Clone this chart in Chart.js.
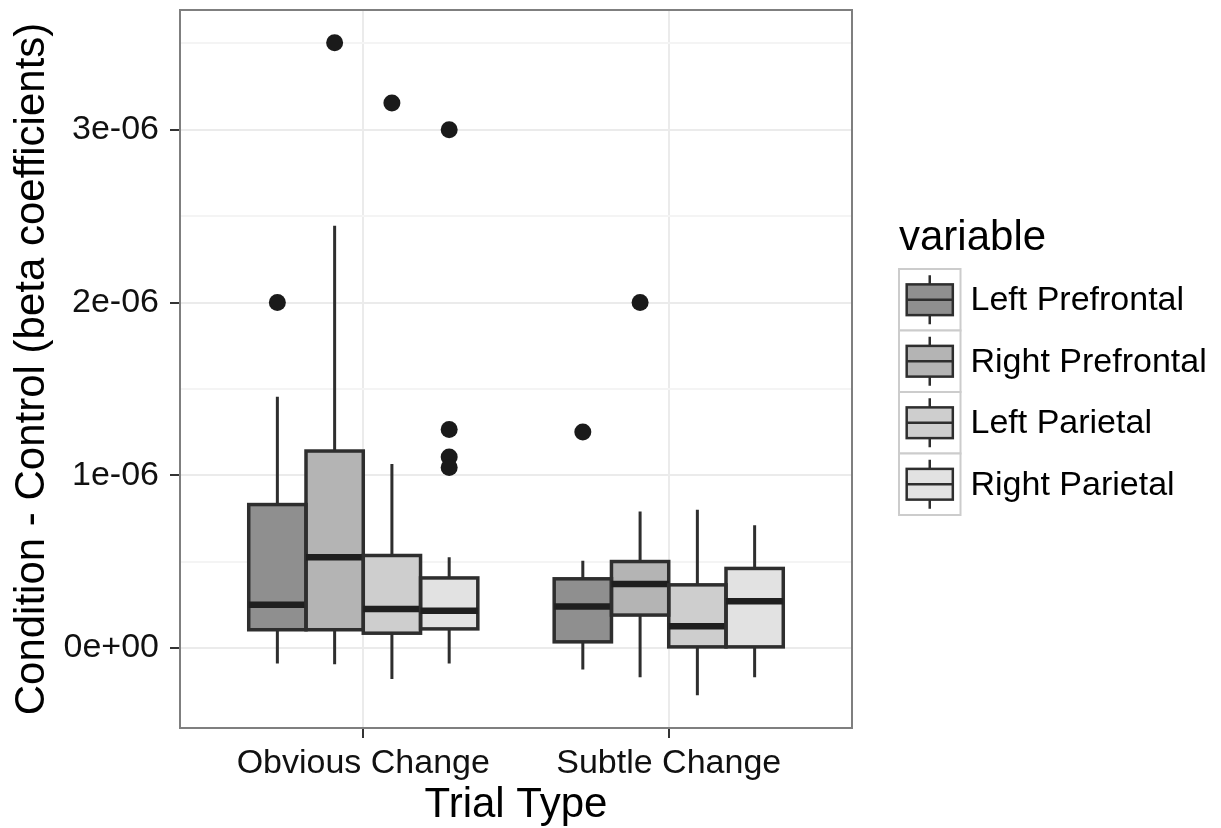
<!DOCTYPE html>
<html>
<head>
<meta charset="utf-8">
<script src="https://cdn.jsdelivr.net/npm/chart.js@4"></script>
<style>
  html, body { margin: 0; padding: 0; background: #fff; }
  canvas { display: block; }
</style>
</head>
<body>
<canvas id="boxes" width="1221" height="828"></canvas>
<script>
Chart.defaults.font.family = "'Liberation Sans', Arial, Helvetica, sans-serif";

const trialTypes = ['Obvious Change', 'Subtle Change'];
const regions = ['Left Prefrontal', 'Right Prefrontal', 'Left Parietal', 'Right Parietal'];
const regionFills = ['#8f8f8f', '#b4b4b4', '#cecece', '#e2e2e2'];

// box stats, rows = region, columns = trial type, in units of 1e-06
const whiskerLow = [
  [-0.09, -0.125],
  [-0.095, -0.17],
  [-0.18, -0.275],
  [-0.09, -0.17]
];
const quartile1 = [
  [0.105, 0.035],
  [0.105, 0.19],
  [0.085, 0.0],
  [0.11, 0.0]
];
const medians = [
  [0.25, 0.24],
  [0.525, 0.37],
  [0.225, 0.125],
  [0.215, 0.27]
];
const quartile3 = [
  [0.83, 0.40],
  [1.14, 0.50],
  [0.535, 0.365],
  [0.405, 0.46]
];
const whiskerHigh = [
  [1.455, 0.505],
  [2.445, 0.79],
  [1.065, 0.80],
  [0.525, 0.71]
];
// [region, trial type, value]
const outliers = [
  [0, 0, 2.0], [1, 0, 3.505], [2, 0, 3.155],
  [3, 0, 3.0], [3, 0, 1.265], [3, 0, 1.105], [3, 0, 1.045],
  [0, 1, 1.25], [1, 1, 2.0]
];

const yMajorTicks = [0, 1, 2, 3];
const yTickLabels = ['0e+00', '1e-06', '2e-06', '3e-06'];
const yMinorTicks = [0.5, 1.5, 2.5, 3.5];

const BOX_SPAN = 0.75;

// y range = data range plus 5% each side
const everyValue = whiskerLow.flat().concat(whiskerHigh.flat(), outliers.map(o => o[2]));
const lo = Math.min(...everyValue);
const hi = Math.max(...everyValue);
const yMin = lo - 0.05 * (hi - lo);
const yMax = hi + 0.05 * (hi - lo);

const boxDatasets = regions.map((name, r) => ({
  type: 'bar',
  label: name,
  data: trialTypes.map((t, c) => ({ x: c + 1, y: [quartile1[r][c], quartile3[r][c]] })),
  backgroundColor: regionFills[r],
  borderWidth: 0,
  categoryPercentage: BOX_SPAN,
  barPercentage: 1,
  order: 2
}));

const outlierDataset = {
  type: 'scatter',
  label: 'outliers',
  data: outliers.map(([r, c, v]) => ({ x: c + 1 + (r - 1.5) * BOX_SPAN / regions.length, y: v })),
  pointRadius: 8.5,
  pointBackgroundColor: '#1a1a1a',
  pointBorderWidth: 0,
  order: 1
};

const isMajor = v => yMajorTicks.includes(v);

// whiskers under the boxes, outlines and medians on top
const boxplotParts = {
  id: 'boxplotParts',
  beforeDatasetsDraw(chart) {
    const { ctx, scales: { y } } = chart;
    ctx.save();
    ctx.strokeStyle = '#2e2e2e';
    ctx.lineWidth = 3;
    regions.forEach((name, r) => {
      chart.getDatasetMeta(r).data.forEach((bar, c) => {
        const { x } = bar.getProps(['x'], true);
        ctx.beginPath();
        ctx.moveTo(x, y.getPixelForValue(whiskerHigh[r][c]));
        ctx.lineTo(x, y.getPixelForValue(quartile3[r][c]));
        ctx.moveTo(x, y.getPixelForValue(quartile1[r][c]));
        ctx.lineTo(x, y.getPixelForValue(whiskerLow[r][c]));
        ctx.stroke();
      });
    });
    ctx.restore();
  },
  afterDatasetsDraw(chart) {
    const { ctx, scales: { y } } = chart;
    ctx.save();
    regions.forEach((name, r) => {
      chart.getDatasetMeta(r).data.forEach((bar, c) => {
        const p = bar.getProps(['x', 'y', 'base', 'width'], true);
        const left = p.x - p.width / 2;
        ctx.strokeStyle = '#2e2e2e';
        ctx.lineWidth = 3.5;
        ctx.strokeRect(left, Math.min(p.y, p.base), p.width, Math.abs(p.base - p.y));
        const my = y.getPixelForValue(medians[r][c]);
        ctx.lineWidth = 6.5;
        ctx.strokeStyle = '#1f1f1f';
        ctx.beginPath();
        ctx.moveTo(left, my);
        ctx.lineTo(left + p.width, my);
        ctx.stroke();
      });
    });
    ctx.restore();
  }
};

// panel border and the fill legend on the right
const frameAndLegend = {
  id: 'frameAndLegend',
  afterDraw(chart) {
    const { ctx, chartArea: a } = chart;
    ctx.save();
    ctx.strokeStyle = '#7f7f7f';
    ctx.lineWidth = 2;
    ctx.strokeRect(a.left, a.top, a.right - a.left, a.bottom - a.top);

    const keySize = 61.5;
    const lx = a.right + 47;
    const keyTop = (a.top + a.bottom) / 2 - 100;
    ctx.fillStyle = '#000';
    ctx.font = "42px 'Liberation Sans', Arial, sans-serif";
    ctx.textBaseline = 'alphabetic';
    ctx.textAlign = 'left';
    ctx.fillText('variable', lx, keyTop - 19);

    ctx.font = "34px 'Liberation Sans', Arial, sans-serif";
    regions.forEach((name, i) => {
      const ky = keyTop + i * keySize;
      ctx.fillStyle = '#ffffff';
      ctx.fillRect(lx, ky, keySize, keySize);
      ctx.strokeStyle = '#cccccc';
      ctx.lineWidth = 2;
      ctx.strokeRect(lx, ky, keySize, keySize);

      const bx = lx + keySize * 0.125, bw = keySize * 0.75;
      const by = ky + keySize * 0.25, bh = keySize * 0.5;
      const cx = lx + keySize / 2;
      ctx.strokeStyle = '#2e2e2e';
      ctx.lineWidth = 2.5;
      ctx.beginPath();
      ctx.moveTo(cx, ky + keySize * 0.1);
      ctx.lineTo(cx, by);
      ctx.moveTo(cx, by + bh);
      ctx.lineTo(cx, ky + keySize * 0.9);
      ctx.stroke();
      ctx.fillStyle = regionFills[i];
      ctx.fillRect(bx, by, bw, bh);
      ctx.strokeRect(bx, by, bw, bh);
      ctx.beginPath();
      ctx.moveTo(bx, ky + keySize / 2);
      ctx.lineTo(bx + bw, ky + keySize / 2);
      ctx.stroke();

      ctx.fillStyle = '#000';
      ctx.textBaseline = 'middle';
      ctx.fillText(name, lx + keySize + 10, ky + keySize / 2 + 1);
    });
    ctx.restore();
  }
};

new Chart(document.getElementById('boxes'), {
  type: 'bar',
  data: { datasets: [...boxDatasets, outlierDataset] },
  options: {
    responsive: false,
    animation: false,
    events: [],
    layout: { padding: { top: 10, right: 369, left: 0, bottom: 0 } },
    plugins: { legend: { display: false }, tooltip: { enabled: false } },
    scales: {
      x: {
        type: 'linear',
        min: 0.4,
        max: 2.6,
        offset: false,
        border: { display: false },
        grid: { offset: false, color: '#ebebeb', lineWidth: 2, tickColor: '#333333', tickWidth: 2, tickLength: 10 },
        afterBuildTicks: s => { s.ticks = trialTypes.map((t, i) => ({ value: i + 1 })); },
        afterFit: s => { s.height = 100; s.paddingLeft = 0; s.paddingRight = 0; },
        ticks: {
          autoSkip: false,
          maxRotation: 0,
          padding: 5,
          color: '#111',
          font: { size: 34 },
          callback: v => trialTypes[v - 1]
        },
        title: {
          display: true,
          text: 'Trial Type',
          color: '#000',
          font: { size: 42 },
          padding: { top: 0, bottom: -3 }
        }
      },
      y: {
        type: 'linear',
        min: yMin,
        max: yMax,
        border: { display: false },
        grid: {
          color: c => isMajor(c.tick.value) ? '#ebebeb' : '#f4f4f4',
          lineWidth: 2,
          tickColor: c => isMajor(c.tick.value) ? '#333333' : 'rgba(0,0,0,0)',
          tickWidth: 2,
          tickLength: 10
        },
        afterBuildTicks: s => {
          s.ticks = yMajorTicks.concat(yMinorTicks)
            .filter(v => v >= yMin && v <= yMax)
            .sort((a, b) => a - b)
            .map(v => ({ value: v }));
        },
        afterFit: s => { s.width = 180; s.paddingTop = 0; s.paddingBottom = 0; },
        ticks: {
          autoSkip: false,
          padding: 11,
          color: '#111',
          font: { size: 34 },
          callback: v => isMajor(v) ? yTickLabels[yMajorTicks.indexOf(v)] : ''
        },
        title: {
          display: true,
          text: 'Condition - Control (beta coefficients)',
          color: '#000',
          font: { size: 42 },
          padding: { top: 7, bottom: 0 }
        }
      }
    }
  },
  plugins: [boxplotParts, frameAndLegend]
});
</script>
</body>
</html>
